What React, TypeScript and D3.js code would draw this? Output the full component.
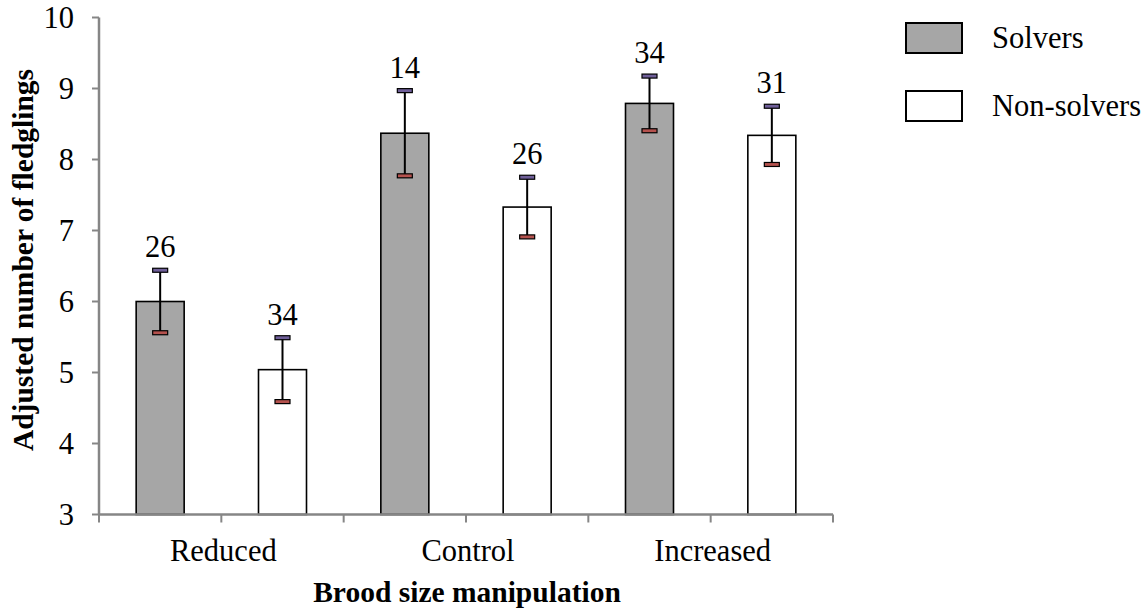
import React from "react";
import * as d3 from "d3";

const categories = ["Reduced", "Control", "Increased"];
const seriesNames = ["Solvers", "Non-solvers"];
const solverMeans = [6.0, 8.37, 8.79];
const solverErr = [0.44, 0.6, 0.385];
const solverN = ["26", "14", "34"];
const nonSolverMeans = [5.04, 7.33, 8.34];
const nonSolverErr = [0.45, 0.42, 0.41];
const nonSolverN = ["34", "26", "31"];
const yTicks = [3, 4, 5, 6, 7, 8, 9, 10];

const W = 1144;
const H = 612;
const left = 99;
const right = 833;
const top = 17.5;
const bottom = 514.5;
const FONT = "'Liberation Serif', 'Times New Roman', serif";
const FS = 30.5;
const FSB = 29.5;
const AXIS = "#868686";
const fills = ["#a6a6a6", "#ffffff"];

export default function App() {
  const x = d3.scaleBand<string>().domain(categories).range([left, right]).padding(0);
  const inner = d3.scaleBand<string>().domain(seriesNames).range([0, x.bandwidth()]).padding(0);
  const y = d3.scaleLinear().domain([3, 10]).range([bottom, top]);
  const barW = 48;

  const series = [
    { name: seriesNames[0], means: solverMeans, errs: solverErr, ns: solverN, fill: fills[0] },
    { name: seriesNames[1], means: nonSolverMeans, errs: nonSolverErr, ns: nonSolverN, fill: fills[1] },
  ];

  const xTicks: number[] = [];
  categories.forEach((c) => {
    xTicks.push(x(c)!);
    xTicks.push(x(c)! + x.bandwidth() / 2);
  });
  xTicks.push(right);

  return (
    <svg width={W} height={H} style={{ position: "absolute", left: 0, top: 0, background: "#fff" }} fontFamily={FONT}>
      {/* bars */}
      {series.map((s) =>
        categories.map((c, i) => {
          const cx = x(c)! + inner(s.name)! + inner.bandwidth() / 2;
          const v = s.means[i];
          const e = s.errs[i];
          const yt = y(v + e);
          const yb = y(v - e);
          return (
            <g key={s.name + c}>
              <rect x={cx - barW / 2} y={y(v)} width={barW} height={bottom - y(v)} fill={s.fill} stroke="#000" strokeWidth={1.6} />
              <line x1={cx} x2={cx} y1={yt} y2={yb} stroke="#000" strokeWidth={2} />
              <rect x={cx - 7.5} y={yt - 2} width={15} height={4} fill="#6f5f99" stroke="#000" strokeWidth={1.2} />
              <rect x={cx - 7.5} y={yb - 2} width={15} height={4} fill="#b5524e" stroke="#000" strokeWidth={1.2} />
              <text x={cx} y={yt - 13} textAnchor="middle" fontSize={FS} fill="#000">
                {s.ns[i]}
              </text>
            </g>
          );
        })
      )}

      {/* y axis */}
      <line x1={left} x2={left} y1={top} y2={bottom} stroke={AXIS} strokeWidth={2.5} />
      {yTicks.map((t) => (
        <g key={t}>
          <line x1={left - 7} x2={left} y1={y(t)} y2={y(t)} stroke={AXIS} strokeWidth={2} />
          <text x={74} y={y(t)} dy="0.34em" textAnchor="end" fontSize={FS} fill="#000">
            {t}
          </text>
        </g>
      ))}

      {/* x axis */}
      <line x1={left} x2={right} y1={bottom} y2={bottom} stroke={AXIS} strokeWidth={2.5} />
      {xTicks.map((t, i) => (
        <line key={i} x1={t} x2={t} y1={bottom} y2={bottom + 8} stroke={AXIS} strokeWidth={2} />
      ))}
      {categories.map((c) => (
        <text key={c} x={x(c)! + x.bandwidth() / 2 + 2} y={561} textAnchor="middle" fontSize={FS} fill="#000">
          {c}
        </text>
      ))}

      {/* axis titles */}
      <text x={467} y={602} textAnchor="middle" fontSize={FSB} fontWeight="bold" fill="#000">
        Brood size manipulation
      </text>
      <text
        transform={`translate(23, ${(top + bottom) / 2 - 6}) rotate(-90)`}
        textAnchor="middle"
        dy="0.34em"
        fontSize={FSB}
        fontWeight="bold"
        fill="#000"
      >
        Adjusted number of fledglings
      </text>

      {/* legend */}
      {series.map((s, i) => (
        <g key={s.name} transform={`translate(906, ${23 + i * 68})`}>
          <rect x={0} y={0} width={56} height={30} fill={s.fill} stroke="#000" strokeWidth={2} />
          <text x={86} y={15} dy="0.34em" fontSize={FS} fill="#000">
            {s.name}
          </text>
        </g>
      ))}
    </svg>
  );
}
